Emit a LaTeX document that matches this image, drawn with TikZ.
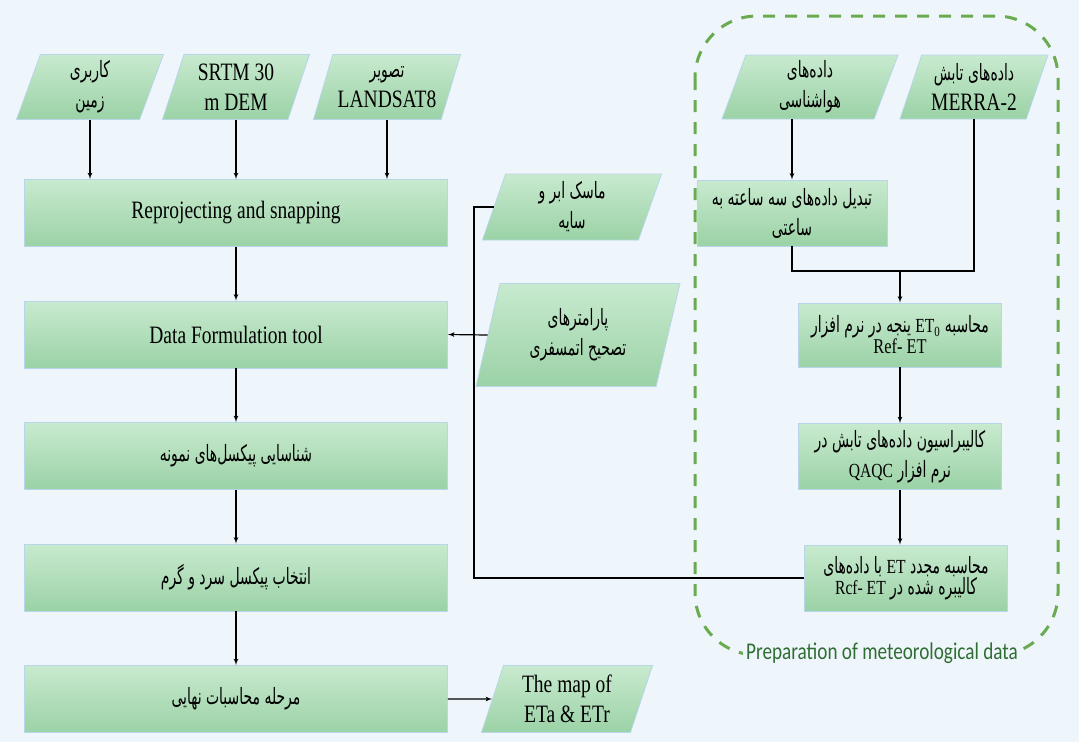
\documentclass[tikz,border=0pt]{standalone}
\usepackage{fontspec}
\setmainfont[FakeStretch=0.78]{Liberation Serif}
\newfontfamily\fa[Script=Arabic,FakeStretch=0.62]{DejaVu Sans}
\newfontfamily\labfont[FakeStretch=0.8]{Carlito}
\TeXXeTstate=1
\usetikzlibrary{shapes,arrows,calc,positioning}
\definecolor{bg}{HTML}{EFF6FB}
\definecolor{boxtop}{HTML}{C8EACF}
\definecolor{boxbot}{HTML}{9BD2A6}
\definecolor{boxline}{HTML}{B7D6EA}
\definecolor{dashgreen}{HTML}{6AAB52}
\definecolor{labgreen}{HTML}{2F6E33}
\newcommand{\pers}[1]{{\fa\fontsize{22.5}{30}\selectfont\beginR #1\endR}}
\newcommand{\lat}[1]{{\rmfamily\fontsize{20}{24}\selectfont\beginL #1\endL}}
\tikzstyle{block} = [draw=boxline, line width=0.8pt, top color=boxtop, bottom color=boxbot,
	rectangle, minimum height=67pt, minimum width=423pt, align=center,
	font=\fontsize{25}{30}\selectfont]
\tikzstyle{rblock} = [block, minimum width=203pt, minimum height=66pt]
\tikzstyle{io} = [block, trapezium, trapezium left angle=68, trapezium right angle=112,
	trapezium stretches body, minimum width=147pt, minimum height=65pt, inner xsep=2pt]

\begin{document}
\begin{tikzpicture}[x=1pt, y=-1pt, >=latex', node distance=121.5pt, line width=1.2pt]
	\fill[bg] (0,0) rectangle (1079,742);
	\useasboundingbox (0,0) rectangle (1079,742);

	% left column
	\node [block] (reproj) at (236,213) {Reprojecting and snapping};
	\node [block, below of=reproj] (dft) {Data Formulation tool};
	\node [block, below of=dft] (ident) {\pers{شناسایی پیکسل‌های نمونه}};
	\node [block, below of=ident] (cold) {\pers{انتخاب پیکسل سرد و گرم}};
	\node [block, below of=cold] (final) {\pers{مرحله محاسبات نهایی}};

	\node [io] (landuse) at (90,87) {\pers{کاربری}\\\pers{زمین}};
	\node [io] (srtm) at (236,87) {SRTM 30\\m DEM};
	\node [io] (landsat) at (387,87) {\pers{تصویر}\\LANDSAT8};

	% middle
	\node [io, minimum width=179pt, minimum height=66pt] (mask) at (572,207) {\pers{ماسک ابر و}\\\pers{سایه}};
	\node [io, minimum width=204pt, minimum height=103pt] (atm) at (578,335) {\pers{پارامترهای}\\\pers{تصحیح اتمسفری}};
	\node [io, minimum width=171pt, minimum height=67pt] (map) at (567,699) {The map of\\ETa \& ETr};

	% meteorological data
	\node [io, minimum width=176pt, minimum height=64pt] (met) at (810,87) {\pers{داده‌های}\\\pers{هواشناسی}};
	\node [io, minimum width=148pt, minimum height=64pt] (merra) at (974,87) {\pers{داده‌های تابش}\\MERRA-2};
	\node [rblock, minimum width=190pt] (conv) at (792,213) {\pers{تبدیل داده‌های سه ساعته به}\\\pers{ساعتی}};
	\node [rblock, minimum height=64pt] (et0) at (900,335) {\pers{محاسبه \lat{ET\textsubscript{0}} ینجه در نرم افزار}\\[-9pt]{\fontsize{21}{24}\selectfont Ref- ET}};
	\node [rblock, below of=et0] (calib) {\pers{کالیبراسیون داده‌های تابش در}\\\pers{نرم افزار \lat{QAQC}}};
	\node [rblock, below of=calib, xshift=6pt] (recalc) {\pers{محاسبه مجدد \lat{ET} با داده‌های}\\[-9pt]\pers{کالیبره شده در \lat{Rcf- ET}}};
	\coordinate (bus) at (474,0);
	\coordinate (mrow) at (0,271);

	\draw[->] (landuse.south) -- (landuse.south |- reproj.north);
	\draw[->] (srtm.south) -- (srtm.south |- reproj.north);
	\draw[->] (landsat.south) -- (landsat.south |- reproj.north);
	\draw[->] (reproj) -- (dft);
	\draw[->] (dft) -- (ident);
	\draw[->] (ident) -- (cold);
	\draw[->] (cold) -- (final);
	\draw[->] (final) -- (map);
	\draw[->] (atm.west) -- (dft.east);
	\draw (mask.west) -| (bus |- recalc.west) -- (recalc.west);
	\draw[->] (conv.north |- met.south) -- (conv.north);
	\draw (conv.south) |- (merra.south |- mrow) -- (merra.south);
	\draw[->] (et0.north |- mrow) -- (et0.north);
	\draw[->] (et0) -- (calib);
	\draw[->] (calib) -- (calib |- recalc.north);

	\draw [dashgreen, line width=3pt, dash pattern=on 12pt off 10pt, rounded corners=62pt](695,16) rectangle (1058,655);
	\node [fill=bg, text=labgreen, font=\labfont\fontsize{24}{28}\selectfont] (prep) at (882,653) {Preparation of meteorological data};

\end{tikzpicture}
\end{document}
